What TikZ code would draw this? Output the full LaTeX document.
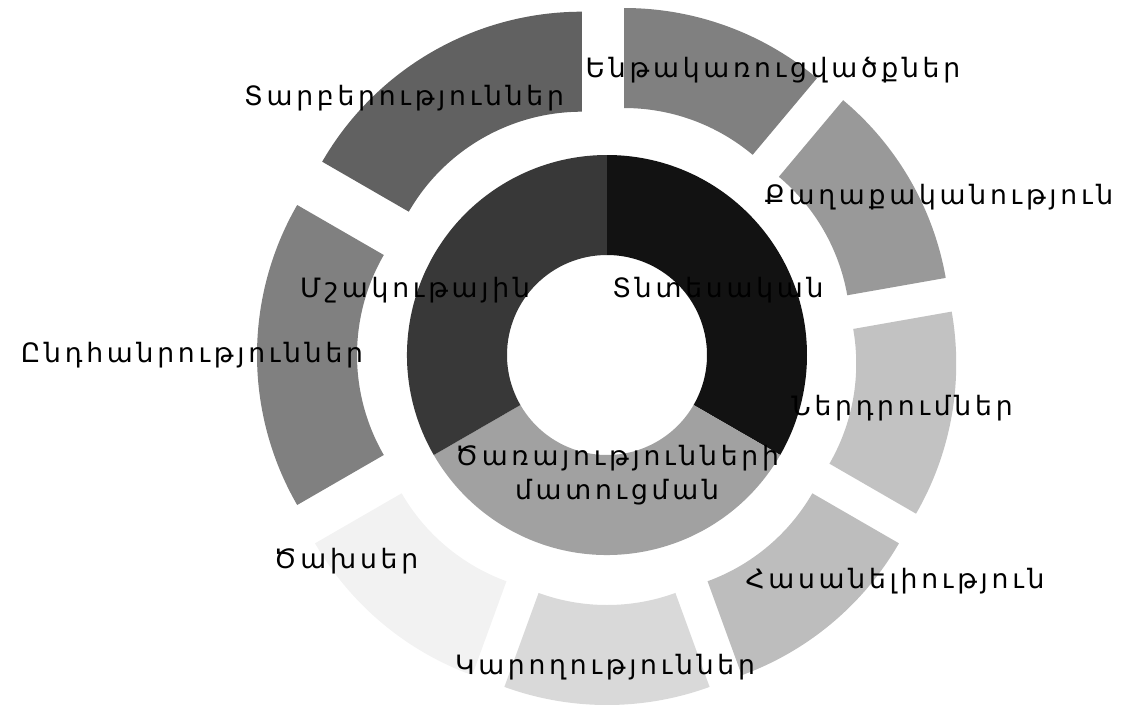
\documentclass[tikz,border=0pt]{standalone}
\usepackage{fontspec}
\usepackage{tikz}
\usetikzlibrary{positioning}
\newfontfamily\armfont[LetterSpace=14]{DejaVu Sans}

\definecolor{tntcol}{gray}{0.07}
\definecolor{mshcol}{gray}{0.22}
\definecolor{tsrcol}{gray}{0.63}
\definecolor{enthcol}{gray}{0.50}
\definecolor{qaghcol}{gray}{0.60}
\definecolor{nerdcol}{gray}{0.76}
\definecolor{hascol}{gray}{0.74}
\definecolor{karcol}{gray}{0.85}
\definecolor{tsakhcol}{gray}{0.95}
\definecolor{endhcol}{gray}{0.50}
\definecolor{tarbcol}{gray}{0.38}

\begin{document}
\begin{tikzpicture}[
          x=0.75pt, y=0.75pt,
          lbl/.style={font=\armfont\fontsize{20}{26}\selectfont, inner sep=0pt, align=center}
      ]
        \useasboundingbox (-607,-349) rectangle (514,355);
        % inner ring
        \foreach \a/\b/\c in {90/-30/tntcol, -30/-150/tsrcol, 210/90/mshcol}{
          \fill[\c] (\a:200) arc[start angle=\a, end angle=\b, radius=200]
            -- (\b:100) arc[start angle=\b, end angle=\a, radius=100] -- cycle;
        }
        % outer ring, pulled out along the middle of each piece
        \foreach \a/\b/\c in {90/50/enthcol, 50/10/qaghcol, 10/-30/nerdcol,
                              -30/-70/hascol, -70/-110/karcol, -110/-150/tsakhcol,
                              210/150/endhcol, 150/90/tarbcol}{
          \pgfmathsetmacro\m{(\a+\b)/2}
          \fill[\c, shift={(\m:50)}] (\a:300) arc[start angle=\a, end angle=\b, radius=300]
            -- (\b:200) arc[start angle=\b, end angle=\a, radius=200] -- cycle;
        }
        \node[lbl] (tnt) at (111,65) {Տնտեսական};
        \node[lbl] (msh) at (-192,65) {Մշակութային};
        \node[lbl] (tsr) at (10,-120) {Ծառայությունների\\մատուցման};
        \node[lbl] (enth) at (166,285) {Ենթակառուցվածքներ};
        \node[lbl] (qagh) at (332,158) {Քաղաքականություն};
        \node[lbl] (nerd) at (295,-53) {Ներդրումներ};
        \node[lbl] (has) at (288,-226) {Հասանելիություն};
        \node[lbl] (kar) at (-2,-312) {Կարողություններ};
        \node[lbl] (tsakh) at (-261,-206) {Ծախսեր};
        \node[lbl] (endh) at (-415,0) {Ընդհանրություններ};
        \node[lbl] (tarb) at (-203,257) {Տարբերություններ};
      \end{tikzpicture}
\end{document}
